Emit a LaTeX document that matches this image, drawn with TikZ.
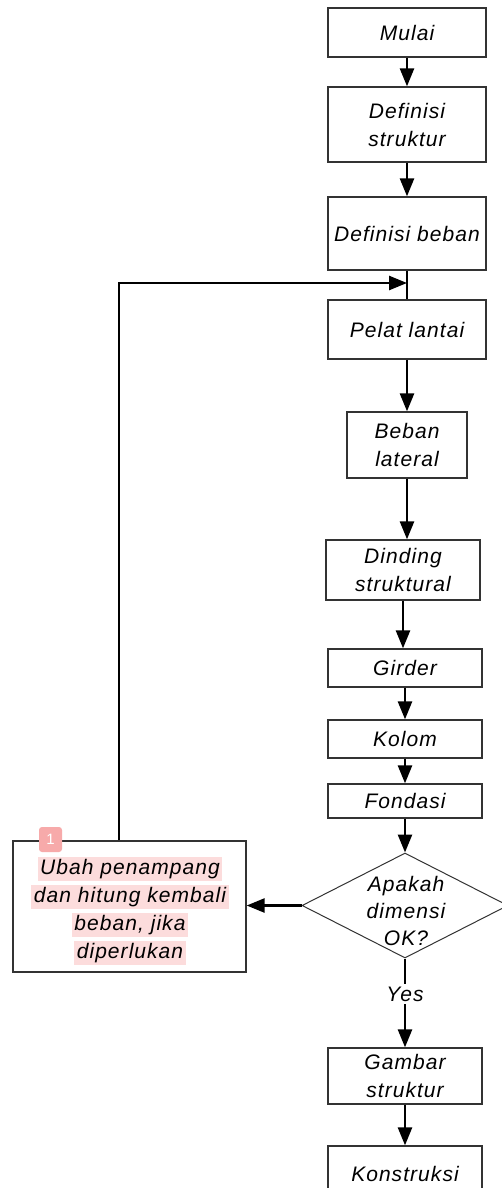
\documentclass[tikz,border=0pt]{standalone}
\usepackage{fontspec}
\setmainfont{Liberation Sans}[LetterSpace=5]
\usetikzlibrary{arrows.meta,shapes.geometric}
\definecolor{edge}{HTML}{333333}
\definecolor{hilite}{HTML}{FCDCDC}
\definecolor{badge}{HTML}{F7AAAA}
\newcommand\hlt[1]{{\setlength\fboxsep{2.5pt}\colorbox{hilite}{#1}}}

\begin{document}
\begin{tikzpicture}[x=1pt,y=-1pt,
    box/.style={draw=edge,line width=1.3pt,fill=white,align=center,inner sep=0pt,
      font=\fontsize{21}{28}\selectfont\itshape},
    flow/.style={line width=2.6pt,-{Triangle[length=18pt,width=14pt]}}]
  \fill[white,use as bounding box] (0,0) rectangle (501,1188);
  \foreach \name/\cx/\cy/\w/\h/\txt in {
      mulai/407/32.5/158/49/{Mulai},
      defstr/407/124.5/158/75/{Definisi\\struktur},
      defbeban/407/233.5/158/73/{Definisi beban},
      pelat/407/329.5/158/59/{Pelat lantai},
      lateral/407/445/120/66/{Beban\\lateral},
      dinding/403/570/154/60/{Dinding\\struktural},
      girder/405/668/154/38/{Girder},
      kolom/405/739/154/38/{Kolom},
      fondasi/405/801/154/34/{Fondasi},
      gambar/405/1076/154/56/{Gambar\\struktur},
      konstruksi/405/1174/154/56/{Konstruksi},
      ubah/129.5/906.5/233/131/{}} {
    \node[box,minimum width=\w pt,minimum height=\h pt] (\name) at (\cx,\cy) {\txt};
  }
  \node[diamond,draw=edge,line width=1pt,minimum width=206pt,minimum height=105pt,inner sep=0pt] (cek) at (405,905.5) {};
  \node[align=center,font=\fontsize{21}{27}\selectfont\itshape] (cektxt) at (406,911) {Apakah\\dimensi\\OK?};
  \node[align=center,font=\fontsize{21}{28}\selectfont\itshape] (ubahtxt) at (130,911)
    {\hlt{Ubah penampang}\\\hlt{dan hitung kembali}\\\hlt{beban, jika}\\\hlt{diperlukan}};
  \node[fill=badge,rounded corners=3pt,text=white,font=\fontsize{15}{15}\selectfont,
    minimum width=23pt,minimum height=25pt,inner sep=0pt] (tanda) at (50.5,839.5) {1};

  \foreach \a/\b in {mulai/defstr,defstr/defbeban,pelat/lateral,lateral/dinding,
      dinding/girder,girder/kolom,kolom/fondasi,fondasi/cek,gambar/konstruksi}
    \draw[flow] (\a.south) -- (\a.south |- \b.north);
  \draw[line width=2.6pt] (defbeban.south) -- (pelat.north);
  \coordinate (belok) at (119,283);
  \draw[flow] (ubah.north -| belok) -- (belok) -- (belok -| defbeban.south);
  \draw[flow] (cek.west) -- (cek.west -| ubah.east);
  \draw[flow] (cek.south) -- node[pos=0.4,fill=white,inner sep=3pt,font=\fontsize{21}{21}\selectfont\itshape] (ya) {Yes} (gambar.north);
\end{tikzpicture}
\end{document}
